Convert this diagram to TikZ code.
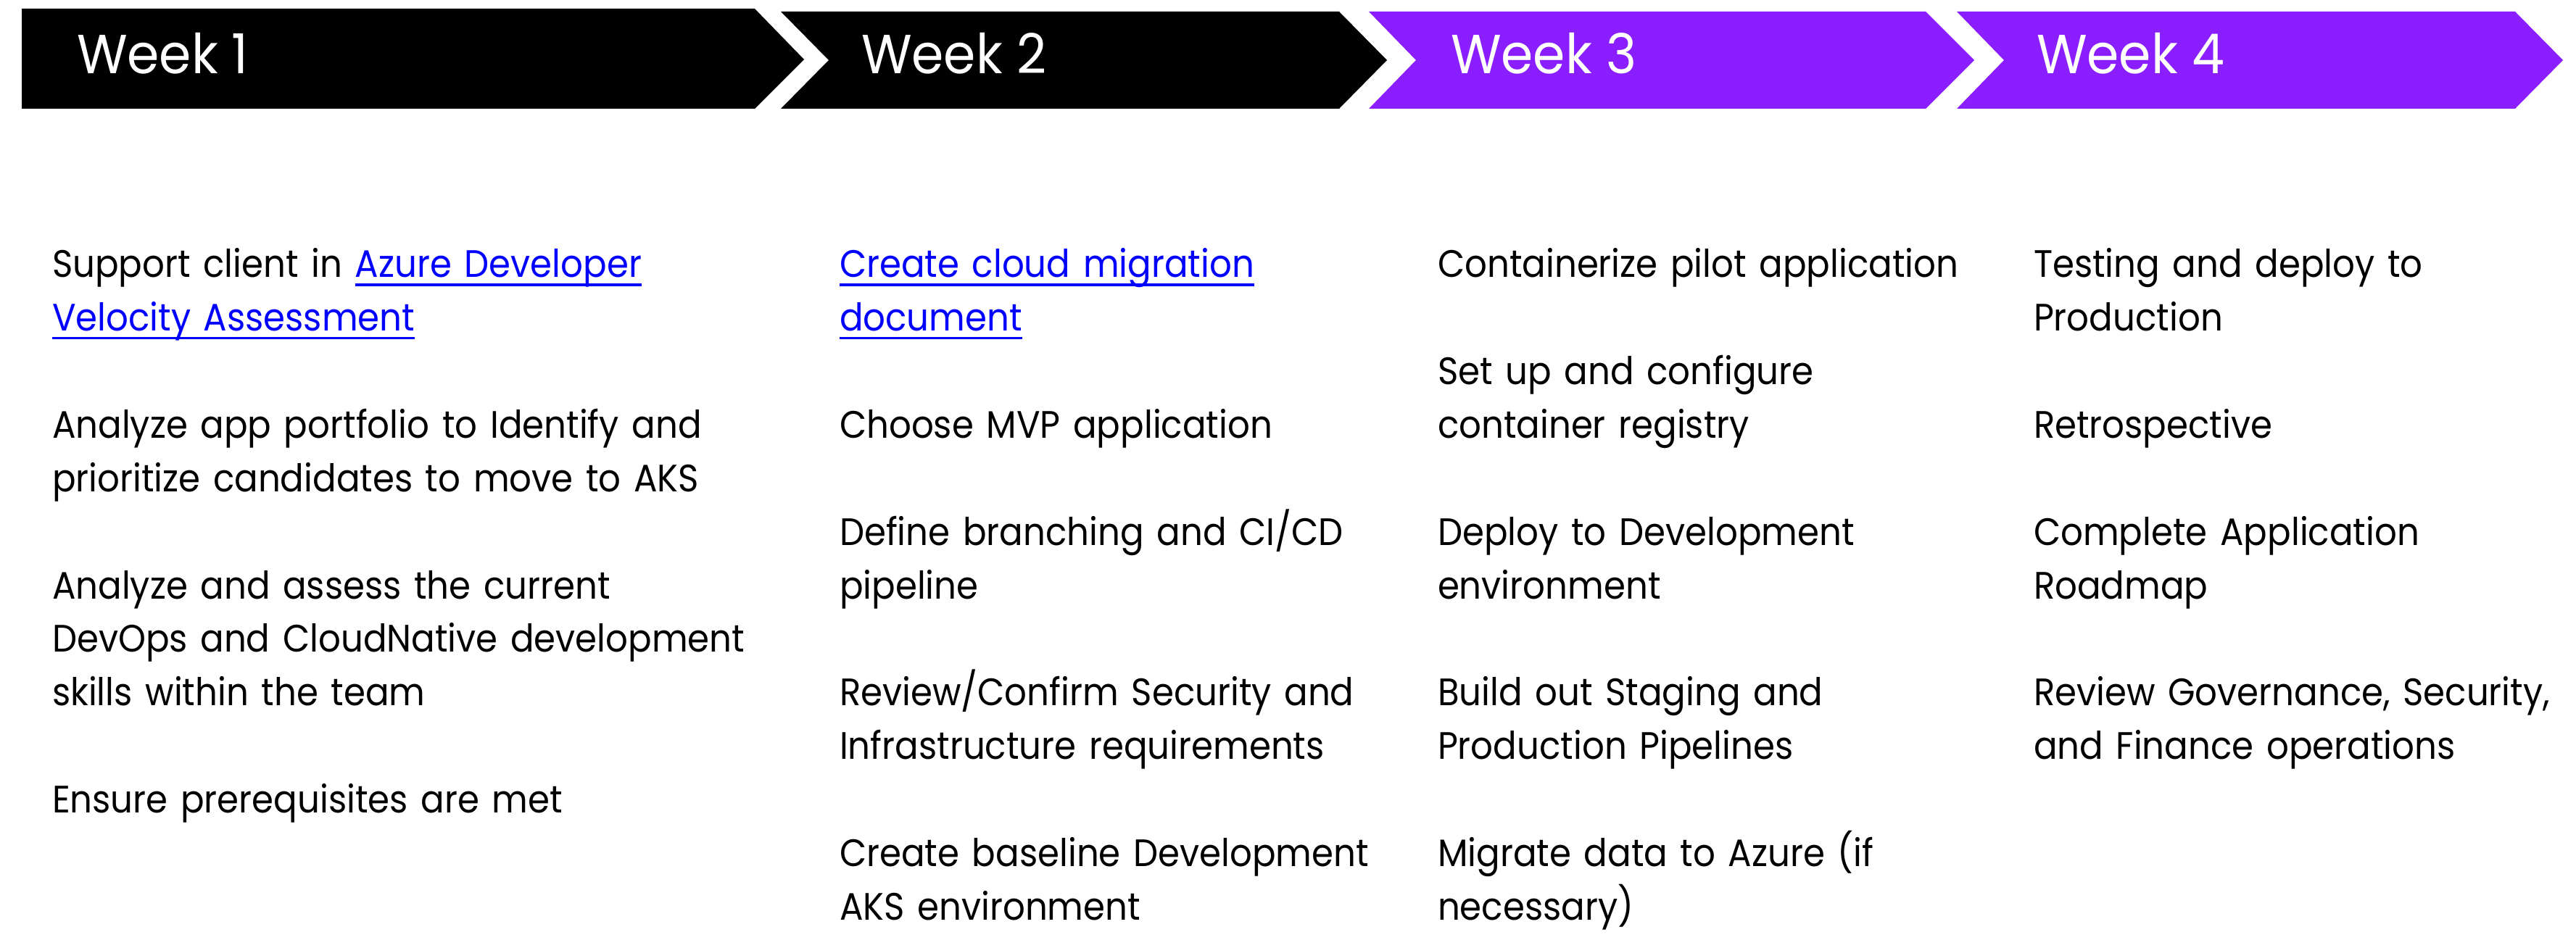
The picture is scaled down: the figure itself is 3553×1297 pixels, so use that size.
\documentclass[tikz,border=0pt]{standalone}
\usepackage{fontspec}
\newfontfamily\bodyfont{Poppins}[FakeStretch=0.915]
\newfontfamily\titlefont{Poppins}[FakeStretch=0.94]
\definecolor{wkpurple}{RGB}{138,30,255}
\definecolor{linkblue}{RGB}{0,0,255}
\newsavebox{\lnkbox}
\newcommand{\lnk}[1]{\leavevmode{\color{linkblue}\sbox{\lnkbox}{#1}\rlap{\rule[-3.3pt]{\wd\lnkbox}{1.1pt}}\usebox{\lnkbox}}}
\begin{document}
\begin{tikzpicture}[x=0.01cm,y=-0.01cm,
  item/.style={anchor=base west, inner sep=0pt, outer sep=0pt, align=left, text width=#1,
    font=\bodyfont\fontsize{15pt}{21pt}\selectfont},
  item/.default=7.4cm,
  wk/.style={anchor=base west, inner sep=0pt, outer sep=0pt, text=white,
    font=\titlefont\fontsize{21.6pt}{26pt}\selectfont}]
\useasboundingbox (0,0) rectangle (3553,1297);
% chevrons
\fill[black] (30,12) -- (1041,12) -- (1109,82) -- (1041,150) -- (30,150) -- cycle;
\fill[black] (1077,16) -- (1847,16) -- (1913,83) -- (1847,150) -- (1077,150) -- (1143,83) -- cycle;
\fill[wkpurple] (1888,16) -- (2656,16) -- (2723,83) -- (2656,150) -- (1888,150) -- (1953,83) -- cycle;
\fill[wkpurple] (2699,16) -- (3469,16) -- (3535,83) -- (3469,150) -- (2699,150) -- (2764,83) -- cycle;
\node[wk] (w1) at (106,102) {Week 1};
\node[wk] (w2) at (1188,102) {Week 2};
\node[wk] (w3) at (2001,102) {Week 3};
\node[wk] (w4) at (2809,102) {Week 4};
% column 1
\node[item=10.5cm] (a1) at (72,383) {Support client in \lnk{Azure Developer}\\\lnk{Velocity Assessment}};
\node[item=10.5cm] (a2) at (72,604.6) {Analyze app portfolio to Identify and\\prioritize candidates to move to AKS};
\node[item=10.5cm] (a3) at (72,826.1) {Analyze and assess the current\\DevOps and CloudNative development\\skills within the team};
\node[item=10.5cm] (a4) at (72,1121.5) {Ensure prerequisites are met};
% column 2
\node[item=8cm] (b1) at (1158,383) {\lnk{Create cloud migration}\\\lnk{document}};
\node[item=8cm] (b2) at (1158,604.6) {Choose MVP application};
\node[item=8cm] (b3) at (1158,752.3) {Define branching and CI/CD\\pipeline};
\node[item=8cm] (b4) at (1158,973.8) {Review/Confirm Security and\\Infrastructure requirements};
\node[item=8cm] (b5) at (1158,1195.4) {Create baseline Development\\AKS environment};
% column 3
\node[item=8cm] (c1) at (1983,383) {Containerize pilot application};
\node[item=8cm] (c2) at (1983,530.7) {Set up and configure\\container registry};
\node[item=8cm] (c3) at (1983,752.3) {Deploy to Development\\environment};
\node[item=8cm] (c4) at (1983,973.8) {Build out Staging and\\Production Pipelines};
\node[item=8cm] (c5) at (1983,1195.4) {Migrate data to Azure (if\\necessary)};
% column 4
\node[item=7.4cm] (d1) at (2805,383) {Testing and deploy to\\Production};
\node[item=7.4cm] (d2) at (2805,604.6) {Retrospective};
\node[item=7.4cm] (d3) at (2805,752.3) {Complete Application\\Roadmap};
\node[item=7.4cm] (d4) at (2805,973.8) {Review Governance, Security,\\and Finance operations};
\end{tikzpicture}
\end{document}
